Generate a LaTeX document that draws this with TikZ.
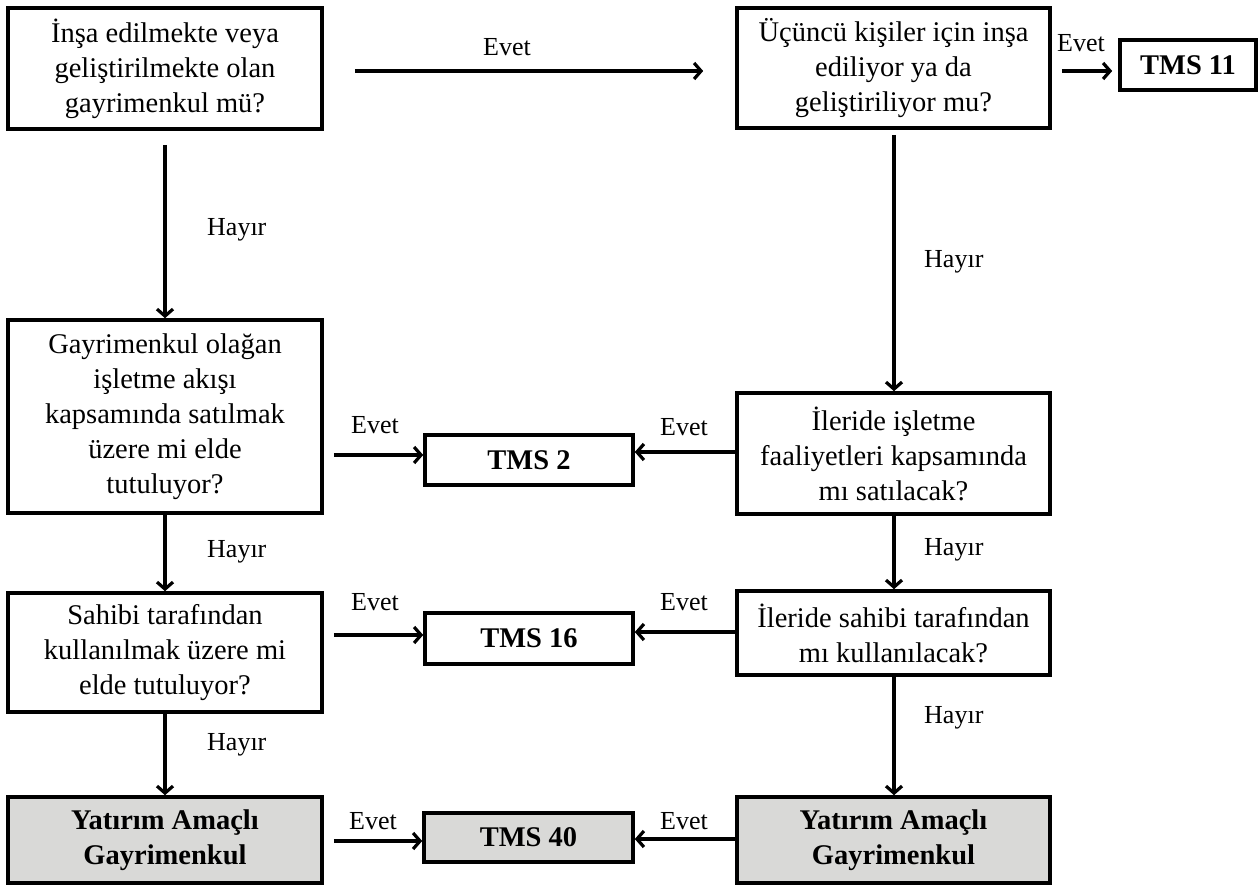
\documentclass[tikz,border=0pt]{standalone}
\usepackage{fontspec}
\setmainfont{Liberation Serif}
\usetikzlibrary{arrows.meta}
\definecolor{boxgray}{RGB}{217,217,215}
\tikzset{
  qbox/.style={draw, line width=3.6pt, rectangle, align=center, inner sep=0pt,
    font=\fontsize{28.5}{35}\selectfont},
  tmsbox/.style={draw, line width=3.6pt, rectangle, align=center, inner sep=0pt,
    font=\fontsize{28.5}{35}\selectfont\bfseries},
  endbox/.style={draw, line width=3.6pt, rectangle, align=center, inner sep=0pt, fill=boxgray,
    font=\fontsize{28.5}{35}\selectfont\bfseries},
  arr/.style={line width=3.2pt, -{Straight Barb[length=7pt,width=16pt]}},
  lbl/.style={font=\fontsize{26}{30}\selectfont, inner sep=0pt},
}
\begin{document}
\begin{tikzpicture}[x=1pt,y=-1pt]
\useasboundingbox (0,0) rectangle (1260,885);
% boxes
\node[qbox, minimum width=314pt, minimum height=121pt] (A) at (165,68.5)
  {İnşa edilmekte veya\\geliştirilmekte olan\\gayrimenkul mü?};
\node[qbox, minimum width=313pt, minimum height=120pt] (B) at (893.5,68)
  {Üçüncü kişiler için inşa\\ediliyor ya da\\geliştiriliyor mu?};
\node[tmsbox, minimum width=136pt, minimum height=50pt] (T11) at (1188,65) {TMS 11};
\node[qbox, minimum width=314pt, minimum height=193pt] (C) at (165,416.5)
  {Gayrimenkul olağan\\işletme akışı\\kapsamında satılmak\\üzere mi elde\\tutuluyor?};
\node[qbox, minimum width=313pt, minimum height=121pt] (D) at (893.5,453.5)
  {İleride işletme\\faaliyetleri kapsamında\\mı satılacak?};
\node[tmsbox, minimum width=208pt, minimum height=50pt] (T2) at (529,460) {TMS 2};
\node[qbox, minimum width=314pt, minimum height=119pt] (E) at (165,652.5)
  {Sahibi tarafından\\kullanılmak üzere mi\\elde tutuluyor?};
\node[qbox, minimum width=313pt, minimum height=84pt] (F) at (893.5,633)
  {İleride sahibi tarafından\\mı kullanılacak?};
\node[tmsbox, minimum width=208pt, minimum height=51pt] (T16) at (529,638.5) {TMS 16};
\node[endbox, minimum width=314pt, minimum height=86pt] (G) at (165,840)
  {Yatırım Amaçlı\\Gayrimenkul};
\node[endbox, minimum width=313pt, minimum height=86pt] (H) at (893.5,840)
  {Yatırım Amaçlı\\Gayrimenkul};
\node[endbox, minimum width=209pt, minimum height=49pt] (T40) at (528.5,837.5) {TMS 40};
% connectors
\draw[arr] ([xshift=31pt,yshift=-2.5pt]A.east) -- ([xshift=-32pt,yshift=-3pt]B.west);
\draw[arr] ([xshift=10pt,yshift=-3pt]B.east) -- ([xshift=-6pt,yshift=-6pt]T11.west);
\draw[arr] ([yshift=-14pt]A.south) -- (C.north);
\draw[arr] ([xshift=0.5pt,yshift=-5pt]B.south) -- ([xshift=0.5pt]D.north);
\draw[arr] (C.south) -- (E.north);
\draw[arr] ([xshift=0.5pt]D.south) -- ([xshift=0.5pt]F.north);
\draw[arr] (E.south) -- (G.north);
\draw[arr] ([xshift=0.5pt]F.south) -- ([xshift=0.5pt]H.north);
\draw[arr] ([xshift=10pt,yshift=5pt]C.east |- T2.west) -- ([yshift=5pt]T2.west);
\draw[arr] ([yshift=1.5pt]D.west) -- ([yshift=8pt]T2.east);
\draw[arr] ([xshift=10pt,yshift=3.5pt]E.east |- T16.west) -- ([yshift=3.5pt]T16.west);
\draw[arr] ([yshift=1pt]F.west) -- ([yshift=6.5pt]T16.east);
\draw[arr] ([xshift=10pt,yshift=-3.5pt]G.east |- T40.west) -- ([yshift=-3.5pt]T40.west);
\draw[arr] ([yshift=1pt]H.west) -- ([yshift=-1.5pt]T40.east);
% labels
\node[lbl] (l1) at (507,47) {Evet};
\node[lbl] (l2) at (1081,43) {Evet};
\node[lbl, anchor=west] (l3) at (207,230) {Hayır};
\node[lbl, anchor=west] (l4) at (924,262) {Hayır};
\node[lbl] (l5) at (375,425) {Evet};
\node[lbl] (l6) at (684,427) {Evet};
\node[lbl, anchor=west] (l7) at (207,552) {Hayır};
\node[lbl, anchor=west] (l8) at (924,550) {Hayır};
\node[lbl] (l9) at (375,602) {Evet};
\node[lbl] (l10) at (684,602) {Evet};
\node[lbl, anchor=west] (l11) at (207,745) {Hayır};
\node[lbl, anchor=west] (l12) at (924,718) {Hayır};
\node[lbl] (l13) at (373,821) {Evet};
\node[lbl] (l14) at (684,821) {Evet};
\end{tikzpicture}
\end{document}
